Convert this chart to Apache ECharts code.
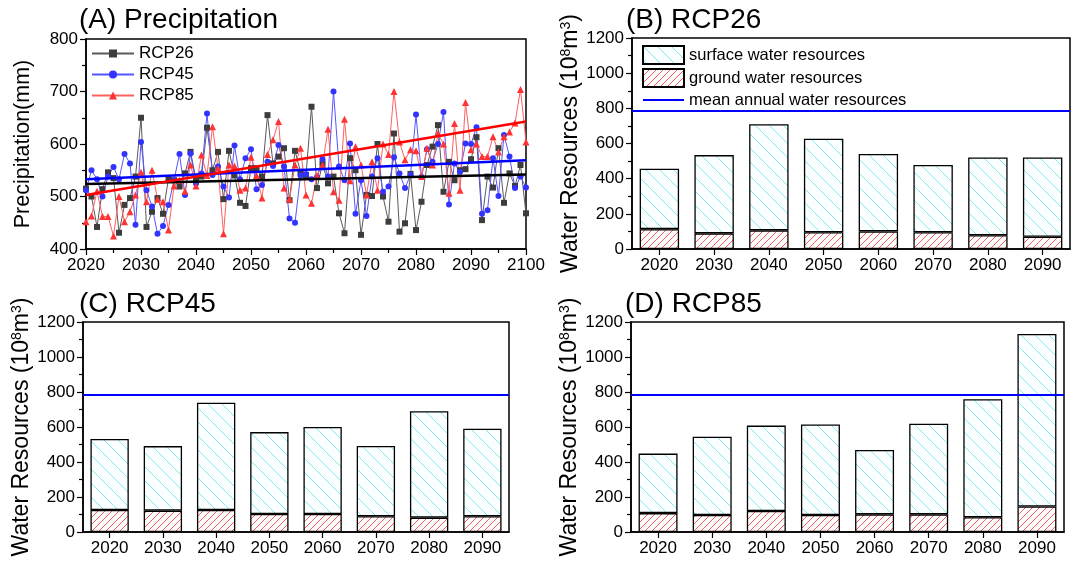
<!DOCTYPE html>
<html><head><meta charset="utf-8">
<script src="https://cdn.jsdelivr.net/npm/echarts@6/dist/echarts.min.js"></script>
<style>html,body{margin:0;padding:0;background:#fff}#c{width:1071px;height:565px}</style>
</head><body><div id="c"></div>
<script>
// ---------- data ----------
const startYear = 2020, endYear = 2100;
const years = Array.from({length: endYear - startYear + 1}, (_, i) => startYear + i);
const rcp26 = [515,500,442,514,546,535,431,484,497,538,650,442,471,497,467,535,531,519,544,585,
  533,538,631,550,585,495,587,540,488,482,554,554,538,655,563,576,592,493,587,547,
  541,671,516,563,525,538,468,430,573,550,427,503,501,600,500,452,620,433,449,543,
  436,490,560,595,636,509,566,531,550,552,571,613,455,538,517,592,488,544,520,560,468];
const rcp45 = [512,550,533,500,538,556,533,581,563,446,604,512,481,429,444,484,531,581,503,582,
  525,544,658,541,557,519,498,597,533,573,590,514,522,566,558,598,557,458,450,540,
  543,533,537,571,538,700,557,531,601,467,531,463,538,573,509,519,575,544,516,541,
  656,537,590,566,600,661,485,563,547,601,600,632,467,474,573,501,617,576,516,538,517];
const rcp85 = [452,463,510,462,462,425,500,452,471,503,546,490,550,495,490,436,520,531,510,560,
  520,579,540,633,554,429,560,558,512,516,575,540,497,580,608,643,516,495,560,592,
  503,487,540,560,628,509,493,647,530,595,560,503,566,512,600,580,700,604,570,589,
  587,538,592,560,620,600,506,639,512,679,589,600,576,576,614,585,614,623,640,704,604];
const trend26 = [524, 542];
const trend45 = [533, 569];
const trend85 = [503, 643];
const precipTicks = [400, 500, 600, 700, 800];

const decades = ['2020','2030','2040','2050','2060','2070','2080','2090'];
const surfB = [344,445,604,532,440,383,442,450];
const groundB = [113,89,106,95,100,95,78,70];
const surfC = [405,369,613,468,497,401,608,500];
const groundC = [126,122,126,103,103,90,82,90];
const surfD = [340,448,488,518,368,518,675,986];
const groundD = [108,97,120,97,101,101,84,146];
const meanWater = 787;

// ---------- styles ----------
const FONT = 'Liberation Sans, Arial, sans-serif';
function hatch(color, s, dir, lw, bg) {
  const c = document.createElement('canvas'); c.width = s; c.height = s;
  const g = c.getContext('2d');
  g.fillStyle = bg; g.fillRect(0, 0, s, s);
  g.strokeStyle = color; g.lineWidth = lw; g.beginPath();
  for (let k = -1; k <= 1; k++) {
    if (dir === 'back') { g.moveTo(k * s, 0); g.lineTo(k * s + s, s); }
    else { g.moveTo(k * s, s); g.lineTo(k * s + s, 0); }
  }
  g.stroke();
  return c;
}
const cyanPat = {image: hatch('#86e8ec', 14, 'back', 1, '#fbffff'), repeat: 'repeat'};
const redPat = {image: hatch('#ff4545', 7, 'fwd', 0.9, '#ffffff'), repeat: 'repeat'};

const grids = [
  {left: 86, top: 39, width: 440, height: 210},
  {left: 632, top: 38, width: 438, height: 211},
  {left: 83, top: 322, width: 426, height: 210},
  {left: 631, top: 322, width: 433, height: 210}
].map(g => Object.assign({show: true, borderColor: '#000', borderWidth: 1.5, backgroundColor: 'transparent', containLabel: false, outerBoundsMode: 'none'}, g));

const axisLine = {show: true, lineStyle: {color: '#000', width: 1.5}};
const lbl = {color: '#000', fontSize: 17, fontFamily: FONT, margin: 8, formatter: v => String(v)};
const tick = {show: true, length: 6, lineStyle: {color: '#000', width: 1.2}};
const minor = {show: true, splitNumber: 2, length: 4, lineStyle: {color: '#000', width: 1.2}};

const xAxes = [
  {gridIndex: 0, type: 'value', min: startYear, max: endYear, interval: 10,
   axisLine, axisTick: tick, minorTick: minor, splitLine: {show: false}, axisLabel: lbl}
];
const yAxes = [
  {gridIndex: 0, type: 'value', min: precipTicks[0], max: precipTicks[precipTicks.length - 1], interval: 100,
   axisLine, axisTick: tick, minorTick: minor, splitLine: {show: false}, axisLabel: lbl,
   name: 'Precipitation(mm)', nameLocation: 'middle', nameGap: 52,
   nameTextStyle: {fontSize: 21.5, color: '#000', fontFamily: FONT}}
];
for (let i = 1; i <= 3; i++) {
  xAxes.push({gridIndex: i, type: 'category', data: decades,
    axisLine, axisTick: Object.assign({alignWithLabel: true}, tick),
    axisLabel: {color: '#000', fontSize: 17, fontFamily: FONT, margin: 8}, splitLine: {show: false}});
  xAxes.push({gridIndex: i, type: 'category', data: decades, position: 'bottom',
    axisLine: {show: false}, axisTick: {alignWithLabel: false, length: 4, lineStyle: {color: '#000', width: 1.2}},
    axisLabel: {show: false}, splitLine: {show: false}});
  yAxes.push({gridIndex: i, type: 'value', min: 0, max: 1200, interval: 200,
    axisLine, axisTick: tick, minorTick: minor, splitLine: {show: false}, axisLabel: lbl,
    name: 'Water Resources (10{s|8}m{s|3})', nameLocation: 'middle', nameGap: 50,
    nameTextStyle: {fontSize: 23, color: '#000', fontFamily: FONT,
      rich: {s: {fontSize: 14, verticalAlign: 'top', color: '#000', fontFamily: FONT, lineHeight: 23}}}});
}

function precipSeries(name, vals, color, lineColor, symbol, size) {
  return {name, type: 'line', xAxisIndex: 0, yAxisIndex: 0,
    data: years.map((y, i) => [y, vals[i]]),
    symbol, symbolSize: size, showSymbol: true,
    itemStyle: {color}, lineStyle: {color: lineColor, width: 1}, z: 2};
}
function trend(vals, color) {
  return {type: 'line', xAxisIndex: 0, yAxisIndex: 0, data: [[startYear, vals[0]], [endYear, vals[1]]],
    symbol: 'none', lineStyle: {color, width: 2.5}, z: 5, silent: true};
}
const series = [
  precipSeries('RCP26', rcp26, '#3d3d3d', '#5a5a5a', 'rect', 6),
  precipSeries('RCP45', rcp45, '#3333ff', '#5555ff', 'circle', 6),
  precipSeries('RCP85', rcp85, '#ff3333', '#ff6060', 'triangle', 7),
  trend(trend26, '#000000'), trend(trend45, '#0000ff'), trend(trend85, '#ff0000')
];
const barSets = [[surfB, groundB], [surfC, groundC], [surfD, groundD]];
barSets.forEach(([surf, ground], k) => {
  const gi = k + 1, xi = 1 + k * 2;
  series.push({name: 'ground water resources', type: 'bar', stack: 's' + gi, xAxisIndex: xi, yAxisIndex: gi,
    data: ground, barWidth: '72%', itemStyle: {color: redPat, borderColor: '#000', borderWidth: 1.3}});
  series.push({name: 'surface water resources', type: 'bar', stack: 's' + gi, xAxisIndex: xi, yAxisIndex: gi,
    data: surf, barWidth: '72%', itemStyle: {color: cyanPat, borderColor: '#000', borderWidth: 1.3}});
  series.push({name: 'mean annual water resources', type: 'line', xAxisIndex: xi, yAxisIndex: gi,
    data: [], symbol: 'none', itemStyle: {color: '#0000ff'}, lineStyle: {color: '#0000ff', width: 2},
    markLine: {silent: true, symbol: ['none', 'none'], label: {show: false},
      lineStyle: {color: '#0000ff', width: 2, type: 'solid'}, data: [{yAxis: meanWater}]}});
});

const titleStyle = {fontSize: 28, fontWeight: 'normal', color: '#000', fontFamily: FONT};
const lineIcon = 'path://M0,0L0.01,0L0.01,0.01L0,0.01ZM0,8L41,8L41,10L0,10ZM40.99,17.99L41,17.99L41,18L40.99,18Z';
const option = {
  animation: false,
  backgroundColor: '#fff',
  title: [
    {text: '(A) Precipitation', left: 79, top: 6, textStyle: titleStyle, padding: 0},
    {text: '(B) RCP26', left: 626, top: 6, textStyle: titleStyle, padding: 0},
    {text: '(C) RCP45', left: 79, top: 290, textStyle: titleStyle, padding: 0},
    {text: '(D) RCP85', left: 625, top: 290, textStyle: titleStyle, padding: 0}
  ],
  legend: [
    {data: ['RCP26', 'RCP45', 'RCP85'], orient: 'vertical', left: 91, top: 45, padding: 0,
     itemWidth: 42, itemHeight: 10, itemGap: 4,
     textStyle: {fontSize: 17, color: '#000', fontFamily: FONT}},
    {data: [{name: 'surface water resources', icon: 'rect'}, {name: 'ground water resources', icon: 'rect'},
            {name: 'mean annual water resources', icon: lineIcon}],
     orient: 'vertical', left: 642, top: 45, padding: 0, itemWidth: 41, itemHeight: 18, itemGap: 3,
     textStyle: {fontSize: 16.5, color: '#000', fontFamily: FONT}}
  ],
  grid: grids, xAxis: xAxes, yAxis: yAxes, series
};
const chart = echarts.init(document.getElementById('c'), null, {renderer: 'canvas'});
chart.setOption(option);
</script></body></html>
